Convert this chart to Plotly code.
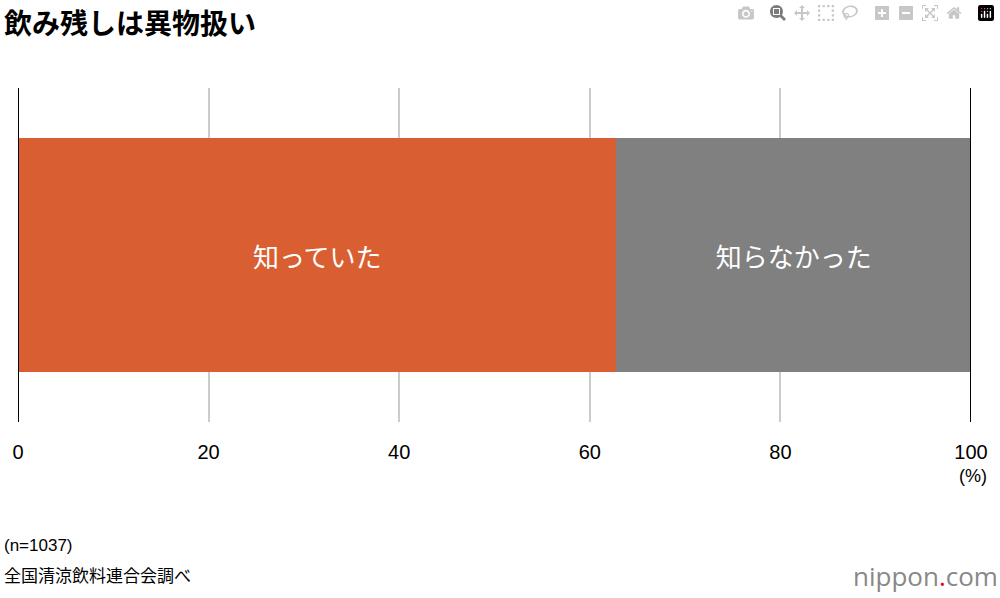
import plotly.graph_objects as go

categories = ["知っていた", "知らなかった"]
values = [62.8, 37.2]
colors = ["#d95f33", "#808080"]
tick_vals = [0, 20, 40, 60, 80, 100]
tick_text = ["0", "20", "40", "60", "80", "100"]

FONT = "Noto Sans CJK JP"
fig = go.Figure()
for c, v, col in zip(categories, values, colors):
    fig.add_trace(go.Bar(x=[v], y=[""], orientation="h", marker=dict(color=col, line_width=0),
                         text=[c], textposition="inside", insidetextanchor="middle",
                         textfont=dict(color="white", size=26, family=FONT), hoverinfo="skip"))

fig.update_layout(
    barmode="stack", bargap=0.3, showlegend=False,
    width=1000, height=598, paper_bgcolor="white", plot_bgcolor="white",
    margin=dict(l=16, r=28, t=88, b=176),
    font=dict(family=FONT, color="black"),
    xaxis=dict(range=[0, 100], tickvals=tick_vals, ticktext=tick_text, showgrid=True,
               gridcolor="#cccccc", gridwidth=1.5, zeroline=False, showline=False,
               tickfont=dict(size=20, family="Liberation Sans"), ticks="", ticklabelstandoff=16),
    yaxis=dict(range=[-0.5, 0.5], showticklabels=False, showgrid=False, zeroline=False),
)
for xv in [0, 100]:
    fig.add_shape(type="line", xref="x", yref="paper", x0=xv, x1=xv, y0=0, y1=1,
                  line=dict(color="black", width=2))

fig.add_annotation(text="<b>飲み残しは異物扱い</b>", xref="paper", yref="paper", x=-0.017, y=1.0,
                   xanchor="left", yanchor="top", yshift=88, showarrow=False,
                   font=dict(size=28, family=FONT))
fig.add_annotation(text="(%)", xref="x", yref="paper", x=100, y=0, yshift=-42, xanchor="center",
                   yanchor="top", showarrow=False, font=dict(size=18, family="Liberation Sans"), xshift=2)
fig.add_annotation(text="(n=1037)", xref="paper", yref="paper",
                   x=-0.017, y=0, yshift=-112, xanchor="left", yanchor="top", align="left",
                   showarrow=False, font=dict(size=17, family="Liberation Sans"))
fig.add_annotation(text="全国清涼飲料連合会調べ", xref="paper", yref="paper",
                   x=-0.017, y=0, yshift=-138, xanchor="left", yanchor="top", align="left",
                   showarrow=False, font=dict(size=17, family=FONT))
fig.add_annotation(text="<span style='color:#888'>nippon</span><span style='color:#e60012'>.</span><span style='color:#888'>com</span>",
                   xref="paper", yref="paper", x=1.03, y=0, yshift=-134, xanchor="right",
                   yanchor="top", showarrow=False, font=dict(size=26, family="Open Sans"))

fig.write_html("out.html", post_script="document.body.style.margin='0';document.body.style.overflow='hidden';")
